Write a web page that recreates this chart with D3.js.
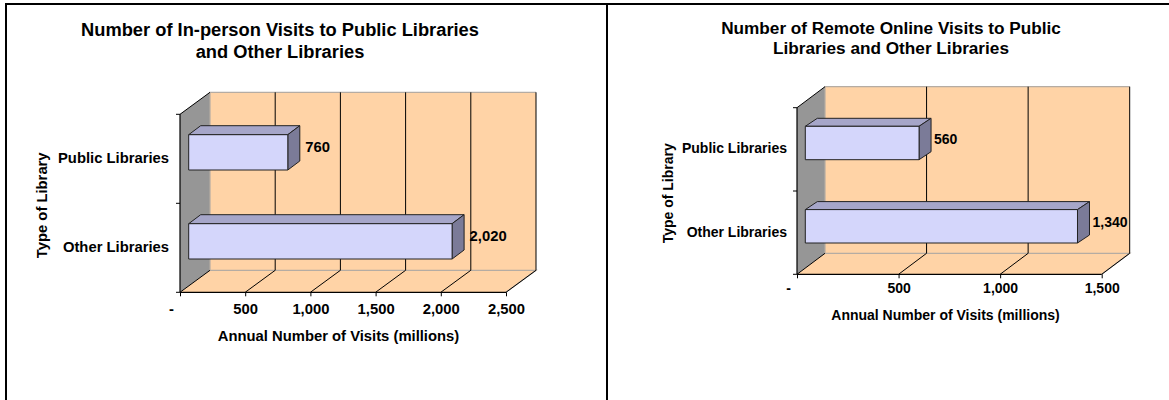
<!DOCTYPE html>
<html>
<head>
<meta charset="utf-8">
<script src="https://cdn.jsdelivr.net/npm/d3@7"></script>
<style>
    html, body { margin: 0; padding: 0; background: #fff; }
    svg { display: block; }
    text { font-family: "Liberation Sans", Arial, sans-serif; font-weight: bold; fill: #000; }
</style>
</head>
<body>
<div id="chart"></div>
<script>
const categories = ['Public Libraries', 'Other Libraries'];
const inPersonValues = [760, 2020];
const remoteValues = [560, 1340];
const inPersonTicks = [0, 500, 1000, 1500, 2000, 2500];
const remoteTicks = [0, 500, 1000, 1500];
const inPersonTitle = ['Number of In-person Visits to Public Libraries', 'and Other Libraries'];
const remoteTitle = ['Number of Remote Online Visits to Public', 'Libraries and Other Libraries'];
const xLabel = 'Annual Number of Visits (millions)';
const yLabel = 'Type of Library';

const fmt = d => d === 0 ? '-' : d3.format(',')(d);

const svg = d3.select('#chart').append('svg')
    .attr('width', 1169)
    .attr('height', 400);

// panel frames
svg.append('path')
    .attr('d', 'M6,400V4H1169M607,4V400')
    .attr('fill', 'none')
    .attr('stroke', '#000')
    .attr('stroke-width', 2);

function drawChart(cfg) {
    const g = svg.append('g');
    const x = d3.scaleLinear()
        .domain([0, d3.max(cfg.ticks)])
        .range([cfg.x0, cfg.x1]);
    const y = d3.scaleBand()
        .domain(cfg.categories)
        .range([cfg.yTop, cfg.yBottom]);
    const dx = cfg.depthX, dy = cfg.depthY;

    // back wall, side wall, floor
    g.append('polygon')
        .attr('points', [[cfg.x0 + dx, cfg.yTop - dy], [cfg.x1 + dx, cfg.yTop - dy], [cfg.x1 + dx, cfg.yBottom - dy], [cfg.x0 + dx, cfg.yBottom - dy]].join(' '))
        .attr('fill', '#ffd3a6');
    g.append('polygon')
        .attr('points', [[cfg.x0, cfg.yBottom], [cfg.x1, cfg.yBottom], [cfg.x1 + dx, cfg.yBottom - dy], [cfg.x0 + dx, cfg.yBottom - dy]].join(' '))
        .attr('fill', '#ffd3a6');
    g.append('polygon')
        .attr('points', [[cfg.x0, cfg.yTop], [cfg.x0 + dx, cfg.yTop - dy], [cfg.x0 + dx, cfg.yBottom - dy], [cfg.x0, cfg.yBottom]].join(' '))
        .attr('fill', '#969696');
    // grey edge of the back wall
    g.append('path')
        .attr('d', `M${cfg.x0 + dx},${cfg.yBottom - dy}V${cfg.yTop - dy}H${cfg.x1 + dx}M${cfg.x0 + dx},${cfg.yBottom - dy}H${cfg.x1 + dx}L${cfg.x1},${cfg.yBottom}`)
        .attr('fill', 'none')
        .attr('stroke', '#b5aca3')
        .attr('stroke-width', 1.2);

    // gridlines, back wall then floor
    const grid = cfg.ticks.slice(1);
    g.selectAll('.grid').data(grid).join('path')
        .attr('class', 'grid')
        .attr('d', d => `M${x(d) + dx},${cfg.yTop - dy}V${cfg.yBottom - dy}L${x(d)},${cfg.yBottom}`)
        .attr('fill', 'none')
        .attr('stroke', '#000')
        .attr('stroke-width', 1);

    // side wall outline
    g.append('path')
        .attr('d', `M${cfg.x0 + dx},${cfg.yTop - dy}L${cfg.x0},${cfg.yTop}M${cfg.x0 + dx},${cfg.yBottom - dy}L${cfg.x0},${cfg.yBottom}`)
        .attr('stroke', '#000')
        .attr('fill', 'none');

    // axes
    const xAxis = d3.axisBottom(x)
        .tickValues(cfg.ticks)
        .tickFormat(fmt)
        .tickSize(4)
        .tickPadding(cfg.tickPad);
    const xAxisG = g.append('g')
        .attr('transform', `translate(0,${cfg.yBottom})`)
        .call(xAxis);
    xAxisG.select('.domain').attr('stroke-width', 1.2).attr('d', `M${cfg.x0},0H${cfg.x1}`);
    xAxisG.selectAll('text')
        .attr('font-size', cfg.tickSize)
        .style('font-family', '"Liberation Sans", Arial, sans-serif');
    xAxisG.selectAll('text').filter(d => d === 0).attr('dx', -9);

    // category ticks sit on the band edges, labels in the band middle
    const yAxisG = g.append('g');
    yAxisG.append('path')
        .attr('d', `M${cfg.x0},${cfg.yTop}V${cfg.yBottom}`)
        .attr('stroke', '#000')
        .attr('stroke-width', 1.2);
    const edges = [cfg.yTop, y(cfg.categories[1]), cfg.yBottom];
    yAxisG.selectAll('line').data(edges).join('line')
        .attr('x1', cfg.x0 - 4)
        .attr('x2', cfg.x0)
        .attr('y1', d => d)
        .attr('y2', d => d)
        .attr('stroke', '#000');
    yAxisG.selectAll('text').data(cfg.categories).join('text')
        .attr('x', cfg.x0 - cfg.catGap)
        .attr('y', d => y(d) + y.bandwidth() / 2 + cfg.catShift)
        .attr('text-anchor', 'end')
        .attr('font-size', cfg.tickSize)
        .text(d => d);

    // bars: front face, top, side
    const bars = g.selectAll('.bar').data(cfg.categories.map((c, i) => ({c, v: cfg.values[i]})))
        .join('g')
        .attr('class', 'bar')
        .attr('stroke', cfg.barStroke)
        .attr('stroke-width', 1)
        .attr('stroke-linejoin', 'round');
    const bx = d => x(d.v) + cfg.barInset;
    const by = d => y(d.c) + cfg.barTop;
    const left = cfg.x0 + cfg.barInset;
    const bh = cfg.barHeight, bdx = cfg.barDepthX, bdy = cfg.barDepthY;
    bars.append('polygon')
        .attr('fill', '#a6a6c9')
        .attr('points', d => [[left, by(d)], [left + bdx, by(d) - bdy], [bx(d) + bdx, by(d) - bdy], [bx(d), by(d)]].join(' '));
    bars.append('polygon')
        .attr('fill', '#7b7b98')
        .attr('points', d => [[bx(d), by(d)], [bx(d) + bdx, by(d) - bdy], [bx(d) + bdx, by(d) + bh - bdy], [bx(d), by(d) + bh]].join(' '));
    bars.append('rect')
        .attr('fill', '#d4d6fb')
        .attr('x', left)
        .attr('y', by)
        .attr('width', d => bx(d) - left)
        .attr('height', bh);

    // value labels
    g.selectAll('.value').data(cfg.categories.map((c, i) => ({c, v: cfg.values[i]})))
        .join('text')
        .attr('class', 'value')
        .attr('x', d => bx(d) + bdx + cfg.valueGap)
        .attr('y', d => by(d) + cfg.valueShift)
        .attr('font-size', cfg.tickSize)
        .text(d => fmt(d.v));

    // titles
    g.selectAll('.title').data(cfg.title).join('text')
        .attr('class', 'title')
        .attr('x', cfg.titleX)
        .attr('y', (d, i) => cfg.titleY + i * cfg.titleStep)
        .attr('text-anchor', 'middle')
        .attr('font-size', cfg.titleSize)
        .text(d => d);

    g.append('text')
        .attr('x', cfg.xLabelX)
        .attr('y', cfg.xLabelY)
        .attr('text-anchor', 'middle')
        .attr('font-size', cfg.tickSize)
        .text(xLabel);
    g.append('text')
        .attr('transform', `translate(${cfg.yLabelX},${cfg.yLabelY}) rotate(-90)`)
        .attr('text-anchor', 'middle')
        .attr('font-size', cfg.tickSize)
        .text(yLabel);
}

drawChart({
    categories, values: inPersonValues, ticks: inPersonTicks, title: inPersonTitle,
    x0: 180, x1: 506, yTop: 114.3, yBottom: 292.3, depthX: 30, depthY: 22,
    barInset: 8.7, barTop: 20.4, barHeight: 35.3, barDepthX: 12, barDepthY: 9,
    barStroke: '#222', tickSize: 14.8, tickPad: 7, catGap: 11, catShift: 4.4, valueGap: 5.5, valueShift: 17.6,
    titleX: 280, titleY: 36, titleStep: 22, titleSize: 18.3,
    xLabelX: 338.5, xLabelY: 341, yLabelX: 46.5, yLabelY: 205.3
});

drawChart({
    categories, values: remoteValues, ticks: remoteTicks, title: remoteTitle,
    x0: 797, x1: 1101.7, yTop: 107.7, yBottom: 274.3, depthX: 28, depthY: 21,
    barInset: 8.3, barTop: 18.6, barHeight: 33.4, barDepthX: 12, barDepthY: 8,
    barStroke: '#222', tickSize: 14, tickPad: 5, catGap: 10, catShift: 3.9, valueGap: 3, valueShift: 17.3,
    titleX: 891, titleY: 34, titleStep: 20.3, titleSize: 17.2,
    xLabelX: 945.5, xLabelY: 320, yLabelX: 673, yLabelY: 193.3
});
</script>
</body>
</html>
